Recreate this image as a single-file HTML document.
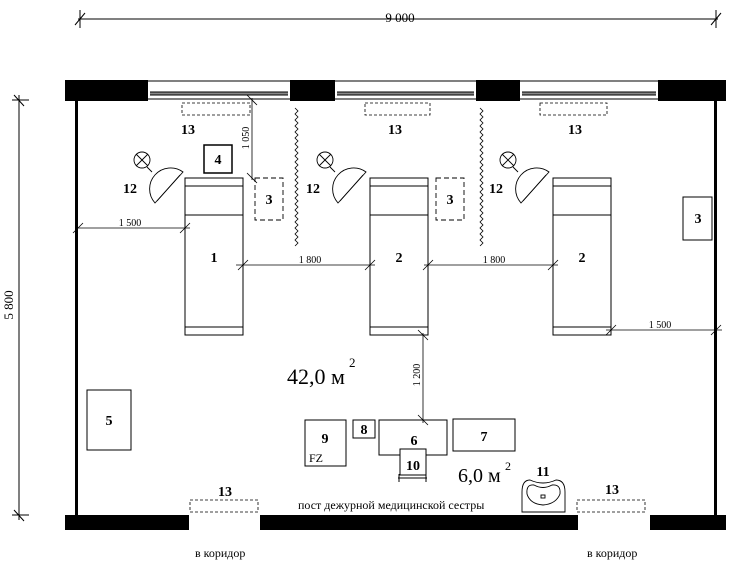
<!DOCTYPE html>
<html><head><meta charset="utf-8"><style>
html,body{margin:0;padding:0;background:#fff;}
svg{display:block;}
text{font-family:"Liberation Serif","DejaVu Serif",serif;fill:#000;}
.b{font-weight:bold;font-size:14px;}
.d{font-size:10px;}
</style></head><body>
<svg width="734" height="570" viewBox="0 0 734 570" xmlns="http://www.w3.org/2000/svg">
<g stroke="#000" fill="none" stroke-width="1">
<line x1="78" y1="19" x2="718" y2="19"/>
<line x1="75" y1="25" x2="85" y2="13"/><line x1="80" y1="10" x2="80" y2="28"/>
<line x1="711" y1="25" x2="721" y2="13"/><line x1="716" y1="10" x2="716" y2="28"/>
<line x1="19" y1="95" x2="19" y2="520"/>
<line x1="12" y1="100" x2="29" y2="100"/><line x1="14" y1="95" x2="24" y2="106"/>
<line x1="12" y1="515" x2="29" y2="515"/><line x1="14" y1="510" x2="24" y2="521"/>
</g>
<text x="400" y="22" font-size="13" text-anchor="middle">9 000</text>
<text x="0" y="0" font-size="13" text-anchor="middle" transform="translate(13,305) rotate(-90)">5 800</text>

<g fill="#000">
<rect x="65" y="80" width="83" height="21"/>
<rect x="290" y="80" width="45" height="21"/>
<rect x="476" y="80" width="44" height="21"/>
<rect x="658" y="80" width="68" height="21"/>
<rect x="65" y="515" width="124" height="15"/>
<rect x="260" y="515" width="318" height="15"/>
<rect x="650" y="515" width="76" height="15"/>
<rect x="75" y="100" width="3" height="416"/>
<rect x="714" y="100" width="3" height="416"/>
</g>
<g stroke="#000" fill="none" stroke-width="1">
<path d="M148 81 H290 M148 99 H290 M150 92 H288 M150 95 H288"/>
<path d="M335 81 H476 M335 99 H476 M337 92 H474 M337 95 H474"/>
<path d="M520 81 H658 M520 99 H658 M522 92 H656 M522 95 H656"/>
</g>
<g stroke="#888" stroke-width="2"><path d="M150 93.5 H288 M337 93.5 H474 M522 93.5 H656"/></g>

<g stroke="#000" fill="none" stroke-width="0.8">
<path id="zz" d="M295 108 l3 3 l-3 3 l3 3 l-3 3 l3 3 l-3 3 l3 3 l-3 3 l3 3 l-3 3 l3 3 l-3 3 l3 3 l-3 3 l3 3 l-3 3 l3 3 l-3 3 l3 3 l-3 3 l3 3 l-3 3 l3 3 l-3 3 l3 3 l-3 3 l3 3 l-3 3 l3 3 l-3 3 l3 3 l-3 3 l3 3 l-3 3 l3 3 l-3 3 l3 3 l-3 3 l3 3 l-3 3 l3 3 l-3 3 l3 3 l-3 3 l3 3 l-3 3"/>
<use href="#zz" x="185"/>
</g>

<g stroke="#000" fill="none" stroke-width="0.8" stroke-dasharray="3,2">
<rect x="182" y="103" width="68" height="12"/>
<rect x="365" y="103" width="65" height="12"/>
<rect x="540" y="103" width="67" height="12"/>
<rect x="190" y="500" width="68" height="12"/>
<rect x="577" y="500" width="68" height="12"/>
</g>
<text class="b" x="188" y="134" text-anchor="middle">13</text>
<text class="b" x="395" y="134" text-anchor="middle">13</text>
<text class="b" x="575" y="134" text-anchor="middle">13</text>
<text class="b" x="225" y="496" text-anchor="middle">13</text>
<text class="b" x="612" y="494" text-anchor="middle">13</text>

<g stroke="#000" fill="#fff" stroke-width="1">
<g id="bed"><rect x="185" y="178" width="58" height="157"/><line x1="185" y1="186" x2="243" y2="186"/><line x1="185" y1="215" x2="243" y2="215"/><line x1="185" y1="327" x2="243" y2="327"/></g>
<use href="#bed" x="185"/>
<use href="#bed" x="368"/>
</g>
<text class="b" x="214" y="262" text-anchor="middle">1</text>
<text class="b" x="399" y="262" text-anchor="middle">2</text>
<text class="b" x="582" y="262" text-anchor="middle">2</text>

<g stroke="#000" fill="#fff" stroke-width="0.9" id="lamp">
<circle cx="142" cy="160" r="8"/>
<line x1="136" y1="154" x2="148" y2="166"/><line x1="148" y1="154" x2="136" y2="166"/>
<line x1="147" y1="167" x2="152" y2="172"/>
<path d="M183 172 A21 21 0 0 0 155 203 Z"/>
<line x1="180" y1="175" x2="157" y2="201"/>
</g>
<use href="#lamp" x="183"/>
<use href="#lamp" x="366"/>
<text class="b" x="130" y="193" text-anchor="middle">12</text>
<text class="b" x="313" y="193" text-anchor="middle">12</text>
<text class="b" x="496" y="193" text-anchor="middle">12</text>

<g stroke="#000" fill="#fff" stroke-width="1">
<rect x="204" y="145" width="28" height="28" stroke-width="1.5"/>
<rect x="683" y="197" width="29" height="43"/>
<rect x="87" y="390" width="44" height="60"/>
<rect x="305" y="420" width="41" height="46"/>
<rect x="353" y="420" width="22" height="18"/>
<rect x="379" y="420" width="68" height="35"/>
<rect x="453" y="419" width="62" height="32"/>
<rect x="400" y="449" width="26" height="26"/>
<line x1="398" y1="478" x2="427" y2="478"/><line x1="399" y1="474" x2="399" y2="482"/><line x1="426" y1="474" x2="426" y2="482"/>
</g>
<g stroke="#000" fill="none" stroke-width="0.9" stroke-dasharray="5,3">
<rect x="255" y="178" width="28" height="42"/>
<rect x="436" y="178" width="28" height="42"/>
</g>
<text class="b" x="218" y="164" text-anchor="middle">4</text>
<text class="b" x="269" y="204" text-anchor="middle">3</text>
<text class="b" x="450" y="204" text-anchor="middle">3</text>
<text class="b" x="698" y="223" text-anchor="middle">3</text>
<text class="b" x="109" y="425" text-anchor="middle">5</text>
<text class="b" x="325" y="443" text-anchor="middle">9</text>
<text x="309" y="462" font-size="12" font-family="Liberation Mono, monospace">FZ</text>
<text class="b" x="364" y="434" text-anchor="middle">8</text>
<text class="b" x="414" y="445" text-anchor="middle">6</text>
<text class="b" x="484" y="441" text-anchor="middle">7</text>
<text class="b" x="413" y="470" text-anchor="middle">10</text>

<g stroke="#000" fill="#fff" stroke-width="0.9" transform="translate(0,6)">
<path d="M522 506 V486 Q522 474 530 474 Q543 480 556 474 Q565 474 565 486 V506 Z"/>
<path d="M527 488 Q526 478 534 479 Q543 484 552 479 Q561 478 560 488 Q556 498 543 499 Q530 498 527 488 Z"/>
<rect x="541" y="489" width="4" height="3"/>
</g>
<text class="b" x="543" y="476" text-anchor="middle">11</text>

<g stroke="#000" fill="none" stroke-width="0.8">
<line x1="77" y1="228" x2="190" y2="228"/><line x1="180" y1="233" x2="190" y2="223"/><line x1="73" y1="233" x2="83" y2="223"/>
<line x1="236" y1="265" x2="375" y2="265"/><line x1="238" y1="270" x2="248" y2="260"/><line x1="365" y1="270" x2="375" y2="260"/>
<line x1="424" y1="265" x2="558" y2="265"/><line x1="423" y1="270" x2="433" y2="260"/><line x1="548" y1="270" x2="558" y2="260"/>
<line x1="606" y1="330" x2="722" y2="330"/><line x1="606" y1="335" x2="616" y2="325"/><line x1="711" y1="335" x2="721" y2="325"/>
<line x1="252" y1="98" x2="252" y2="180"/><line x1="247" y1="95" x2="257" y2="105"/><line x1="247" y1="173" x2="257" y2="183"/>
<line x1="423" y1="333" x2="423" y2="423"/><line x1="418" y1="330" x2="428" y2="340"/><line x1="418" y1="415" x2="428" y2="425"/>
</g>
<text class="d" x="130" y="226" text-anchor="middle">1 500</text>
<text class="d" x="310" y="263" text-anchor="middle">1 800</text>
<text class="d" x="494" y="263" text-anchor="middle">1 800</text>
<text class="d" x="660" y="328" text-anchor="middle">1 500</text>
<text class="d" transform="translate(249,138) rotate(-90)" text-anchor="middle">1 050</text>
<text class="d" transform="translate(420,375) rotate(-90)" text-anchor="middle">1 200</text>

<text x="287" y="384" font-size="22">42,0 м</text>
<text x="349" y="367" font-size="13">2</text>
<text x="458" y="482" font-size="20">6,0 м</text>
<text x="505" y="470" font-size="12">2</text>
<text x="298" y="509" font-size="12">пост дежурной медицинской сестры</text>
<text x="195" y="557" font-size="12">в коридор</text>
<text x="587" y="557" font-size="12">в коридор</text>
</svg>
</body></html>
